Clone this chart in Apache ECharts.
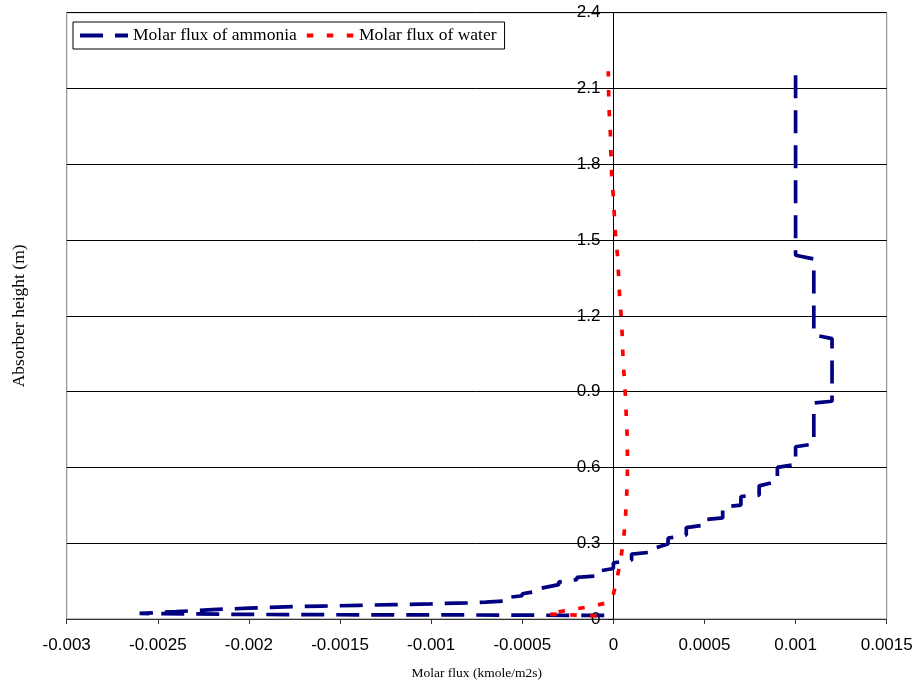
<!DOCTYPE html>
<html>
<head>
<meta charset="utf-8">
<script src="https://cdn.jsdelivr.net/npm/echarts@6/dist/echarts.min.js"></script>
<style>
  html, body { margin: 0; padding: 0; background: #fff; }
  #chart { width: 918px; height: 686px; }
</style>
</head>
<body>
<div id="chart"></div>
<script>
// Molar flux profiles along the absorber height
const seriesNames = ['Molar flux of ammonia', 'Molar flux of water'];

const ammoniaFlux = [
  -0.00005, -0.0004, -0.0008, -0.0012, -0.0016, -0.0020, -0.0023, -0.0026,
  -0.0024, -0.0022, -0.0020, -0.0018, -0.0016, -0.0014, -0.0012, -0.0010, -0.0008, -0.0007,
  -0.0006, -0.0006, -0.0005, -0.0005, -0.0004, -0.0004, -0.0003, -0.0003,
  -0.0002, -0.0002, -0.0001, -0.0001, 0, 0, 0.0001, 0.0001, 0.0002, 0.0002,
  0.0003, 0.0003, 0.0004, 0.0004, 0.0005, 0.0005, 0.0006, 0.0006, 0.0007, 0.0007,
  0.0008, 0.0008, 0.0009, 0.0009, 0.0010, 0.0010, 0.0011, 0.0011, 0.0012, 0.0012,
  0.0011, 0.0011, 0.0010, 0.0010
];
const ammoniaHeight = [
  0.014, 0.015, 0.016, 0.016, 0.017, 0.018, 0.020, 0.022,
  0.029, 0.037, 0.043, 0.048, 0.051, 0.054, 0.057, 0.060, 0.064, 0.067,
  0.071, 0.084, 0.092, 0.100, 0.112, 0.121, 0.136, 0.146,
  0.156, 0.165, 0.170, 0.187, 0.200, 0.222, 0.233, 0.257, 0.264, 0.275,
  0.297, 0.320, 0.333, 0.362, 0.372, 0.393, 0.400, 0.443, 0.451, 0.485,
  0.490, 0.527, 0.545, 0.600, 0.612, 0.682, 0.693, 0.855, 0.862, 1.110,
  1.125, 1.425, 1.440, 2.170
];

const waterFlux = [
  -0.00002, -0.00015, -0.00036, -0.00025, -0.00012, -0.00003, -0.000005,
  0.0000165, 0.0000384, 0.000055,
  0.0000659, 0.0000714, 0.0000769, 0.0000769, 0.0000769, 0.0000714, 0.0000675, 0.00006,
  0.000053, 0.0000494, 0.000044, 0.0000346, 0.000029, 0.0000236, 0.0000126, 0.0000055,
  0, -0.000009, -0.000013, -0.000016, -0.000022, -0.000026, -0.000028
];
const waterHeight = [
  0.010, 0.014, 0.020, 0.035, 0.050, 0.065, 0.083,
  0.148, 0.227, 0.310,
  0.390, 0.470, 0.550, 0.630, 0.709, 0.790, 0.870, 0.953,
  1.030, 1.110, 1.190, 1.272, 1.353, 1.432, 1.513, 1.593,
  1.672, 1.754, 1.833, 1.916, 1.995, 2.080, 2.168
];

const fluxTicks = [-0.003, -0.0025, -0.002, -0.0015, -0.001, -0.0005, 0, 0.0005, 0.001, 0.0015];
const heightTicks = [0, 0.3, 0.6, 0.9, 1.2, 1.5, 1.8, 2.1, 2.4];

const xTitle = 'Molar flux (kmole/m2s)';
const yTitle = 'Absorber height (m)';

const pairs = (xs, ys) => xs.map((x, i) => [x, ys[i]]);
const tickText = v => String(parseFloat(Number(v).toFixed(6)));

const SANS = '"Liberation Sans", Arial, sans-serif';
const SERIF = '"Liberation Serif", "Times New Roman", serif';

// Plot area
const GRID = { left: 66.7, right: 31.3, top: 12.7, bottom: 67 };
const plotWidth = 918 - GRID.left - GRID.right;
const xMin = fluxTicks[0];
const xMax = fluxTicks[fluxTicks.length - 1];
// Height axis sits on the zero-flux line
const yAxisShift = -plotWidth * (0 - xMin) / (xMax - xMin);

// Legend keys drawn as dash patterns
const dashIcons = [
  'path://M0,0h23v4h-23zM35,0h13v4h-13z',
  'path://M0,0h6.5v4h-6.5zM20,0h6.5v4h-6.5zM40,0h6.5v4h-6.5z'
];

const chart = echarts.init(document.getElementById('chart'), null, { renderer: 'canvas' });

chart.setOption({
  animation: false,
  backgroundColor: '#fff',
  grid: Object.assign({}, GRID, {
    outerBoundsMode: 'none', containLabel: false,
    show: true, borderColor: '#808080', borderWidth: 1, backgroundColor: 'transparent'
  }),
  legend: {
    left: 73, top: 22,
    padding: [4, 8, 4, 7],
    itemWidth: 48, itemHeight: 4, itemGap: 10,
    borderColor: '#000', borderWidth: 1, backgroundColor: '#fff',
    textStyle: { fontFamily: SERIF, fontSize: 17.5, color: '#000', lineHeight: 19 },
    data: seriesNames.map((name, i) => ({ name, icon: dashIcons[i] }))
  },
  xAxis: {
    type: 'value',
    min: xMin, max: xMax,
    interval: fluxTicks[1] - fluxTicks[0],
    name: xTitle, nameLocation: 'middle', nameGap: 47,
    nameTextStyle: { fontFamily: SERIF, fontSize: 13.5, color: '#000' },
    axisLine: { show: true, lineStyle: { color: '#333', width: 1 } },
    axisTick: { show: true, length: 5, lineStyle: { color: '#333' } },
    axisLabel: { formatter: tickText, fontFamily: SANS, fontSize: 17, color: '#000', margin: 18 },
    splitLine: { show: false }
  },
  yAxis: {
    type: 'value',
    position: 'left',
    offset: yAxisShift,
    min: heightTicks[0], max: heightTicks[heightTicks.length - 1],
    interval: heightTicks[1] - heightTicks[0],
    name: yTitle, nameLocation: 'middle', nameGap: 585,
    nameTextStyle: { fontFamily: SERIF, fontSize: 17.5, color: '#000' },
    axisLine: { show: true, onZero: false, lineStyle: { color: '#000', width: 1 } },
    axisTick: { show: true, length: 5, lineStyle: { color: '#000' } },
    axisLabel: { formatter: tickText, fontFamily: SANS, fontSize: 17, color: '#000', margin: 13 },
    splitLine: { show: true, lineStyle: { color: '#000', width: 1 } }
  },
  series: [
    {
      name: seriesNames[0],
      type: 'line',
      data: pairs(ammoniaFlux, ammoniaHeight),
      symbol: 'none', showSymbol: false,
      lineStyle: { color: '#000080', width: 3.7, type: [23, 12], cap: 'butt' },
      itemStyle: { color: '#000080' },
      z: 3
    },
    {
      name: seriesNames[1],
      type: 'line',
      data: pairs(waterFlux, waterHeight),
      symbol: 'none', showSymbol: false,
      lineStyle: { color: '#ff0000', width: 3.7, type: [6.5, 13.5], dashOffset: 7, cap: 'butt' },
      itemStyle: { color: '#ff0000' },
      z: 4
    }
  ]
});
</script>
</body>
</html>
